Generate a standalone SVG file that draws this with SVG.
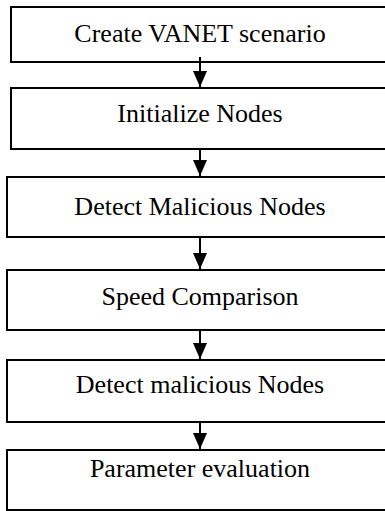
<svg xmlns="http://www.w3.org/2000/svg" width="385" height="511" viewBox="0 0 385 511">
<style>
.box{fill:#fff;stroke:#000;stroke-width:2}
.lbl{font-family:"Liberation Serif","Times New Roman",serif;font-size:26px;fill:#000;text-anchor:middle}
.conn{stroke:#000;stroke-width:2;fill:none}
</style>
<defs>
<marker id="ah" markerUnits="userSpaceOnUse" viewBox="0 0 16 14" refX="16" refY="7" markerWidth="16" markerHeight="14" orient="auto">
<path d="M0,0 L16,7 L0,14 z" fill="#000"/>
</marker>
</defs>
<g id="n1"><rect class="box" x="11" y="7" width="390" height="55"/><text class="lbl" x="200" y="42">Create VANET scenario</text></g>
<g id="n2"><rect class="box" x="11" y="88" width="390" height="61"/><text class="lbl" x="200" y="122">Initialize Nodes</text></g>
<g id="n3"><rect class="box" x="7" y="177" width="394" height="60"/><text class="lbl" x="200" y="215">Detect Malicious Nodes</text></g>
<g id="n4"><rect class="box" x="7" y="270" width="394" height="60"/><text class="lbl" x="200" y="305">Speed Comparison</text></g>
<g id="n5"><rect class="box" x="7" y="360" width="394" height="62"/><text class="lbl" x="200" y="393">Detect malicious Nodes</text></g>
<g id="n6"><rect class="box" x="7" y="450" width="394" height="60"/><text class="lbl" x="200" y="477">Parameter evaluation</text></g>
<g id="connectors">
<line class="conn" x1="200" y1="57" x2="200" y2="87" marker-end="url(#ah)"/>
<line class="conn" x1="200" y1="149" x2="200" y2="176" marker-end="url(#ah)"/>
<line class="conn" x1="200" y1="237" x2="200" y2="269" marker-end="url(#ah)"/>
<line class="conn" x1="200" y1="330" x2="200" y2="359" marker-end="url(#ah)"/>
<line class="conn" x1="200" y1="422" x2="200" y2="449" marker-end="url(#ah)"/>
</g>
</svg>
